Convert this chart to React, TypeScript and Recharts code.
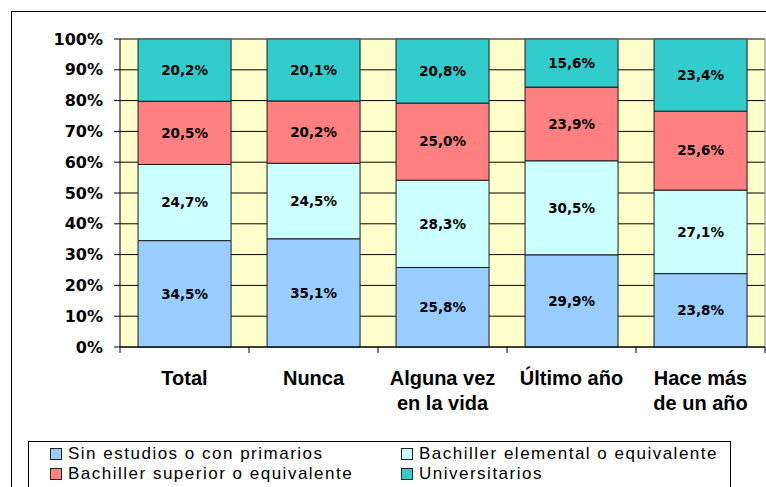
import { BarChart, Bar, XAxis, YAxis, CartesianGrid, LabelList, ReferenceLine } from 'recharts';

const categories = ['Total', 'Nunca', 'Alguna vez\nen la vida', 'Último año', 'Hace más\nde un año'];
const sinEstudios = [34.5, 35.1, 25.8, 29.9, 23.8];
const bachElemental = [24.7, 24.5, 28.3, 30.5, 27.1];
const bachSuperior = [20.5, 20.2, 25.0, 23.9, 25.6];
const universitarios = [20.2, 20.1, 20.8, 15.6, 23.4];
const yTicks = [0, 0.1, 0.2, 0.3, 0.4, 0.5, 0.6, 0.7, 0.8, 0.9, 1];

const series = [
  { key: 'sin', name: 'Sin estudios o con primarios', color: '#99CCFF', values: sinEstudios },
  { key: 'elem', name: 'Bachiller elemental o equivalente', color: '#CCFFFF', values: bachElemental },
  { key: 'sup', name: 'Bachiller superior o equivalente', color: '#FF8080', values: bachSuperior },
  { key: 'univ', name: 'Universitarios', color: '#33CCCC', values: universitarios },
];

const data = categories.map((c, i) => {
  const row: Record<string, string | number> = { cat: c };
  series.forEach((s) => (row[s.key] = s.values[i]));
  return row;
});

const pct = (v: number) => v.toFixed(1).replace('.', ',') + '%';

function CatTick(props: any) {
  const { x, y, payload, index } = props;
  const half = payload.offset ?? 0;
  const lines = String(payload.value).split('\n');
  return (
    <g>
      <line x1={x - half} x2={x - half} y1={y - 8} y2={y - 2} stroke="#000" />
      {index === categories.length - 1 && (
        <line x1={x + half} x2={x + half} y1={y - 8} y2={y - 2} stroke="#000" />
      )}
      <text
        x={x}
        y={y + 30}
        textAnchor="middle"
        fontFamily="'Liberation Sans', Arial, sans-serif"
        fontWeight="bold"
        fontSize={20}
        fill="#000"
      >
        {lines.map((l, i) => (
          <tspan key={i} x={x} dy={i === 0 ? 0 : 25}>
            {l}
          </tspan>
        ))}
      </text>
    </g>
  );
}

export default function App() {
  return (
    <div
      style={{
        position: 'absolute',
        left: 0,
        top: 0,
        width: 766,
        height: 487,
        overflow: 'hidden',
        background: '#fff',
      }}
    >
      <div
        style={{
          position: 'absolute',
          left: 11,
          top: 11,
          width: 800,
          height: 600,
          border: '1px solid #000',
        }}
      />
      <div style={{ position: 'absolute', left: 0, top: 0 }}>
        <BarChart
          width={780}
          height={440}
          data={data}
          stackOffset="expand"
          barCategoryGap="14%"
          margin={{ top: 39, right: 15, bottom: 3, left: 0 }}
        >
          <CartesianGrid vertical={false} stroke="#000" fill="#FFFFCC" fillOpacity={1} />
          <XAxis
            dataKey="cat"
            height={90}
            axisLine={{ stroke: '#000' }}
            tickLine={false}
            tick={<CatTick />}
            interval={0}
          />
          <YAxis
            width={120}
            domain={[0, 1]}
            ticks={yTicks}
            tickFormatter={(v: number) => Math.round(v * 100) + '%'}
            axisLine={{ stroke: '#000' }}
            tickLine={{ stroke: '#000' }}
            tickSize={6}
            tickMargin={11}
            tick={{ fill: '#000', fontFamily: "'DejaVu Sans', Verdana, sans-serif", fontWeight: 'bold', fontSize: 16 }}
          />
          <ReferenceLine y={1} stroke="#808080" />
          <ReferenceLine x={categories[categories.length - 1]} position="end" stroke="#808080" />
          {series.map((s) => (
            <Bar
              key={s.key}
              dataKey={s.key}
              name={s.name}
              stackId="a"
              fill={s.color}
              stroke="#1a1a1a"
              strokeWidth={1}
              isAnimationActive={false}
            >
              <LabelList
                dataKey={s.key}
                position="center"
                formatter={(v: any) => pct(Number(v))}
                fill="#000"
                fontFamily="'DejaVu Sans', Verdana, sans-serif"
                fontWeight="bold"
                fontSize={13.5}
              />
            </Bar>
          ))}
        </BarChart>
      </div>
      <div
        style={{
          position: 'absolute',
          left: 28,
          top: 441,
          width: 703,
          height: 100,
          border: '1px solid #000',
          boxSizing: 'border-box',
          fontFamily: "'Liberation Sans', Arial, sans-serif",
          fontSize: 17,
          letterSpacing: 1.5,
          color: '#000',
        }}
      >
        {series.map((s, i) => (
          <div
            key={s.key}
            style={{
              position: 'absolute',
              left: i % 2 === 0 ? 21 : 372,
              top: 2 + Math.floor(i / 2) * 20,
              height: 20,
              display: 'flex',
              alignItems: 'center',
              whiteSpace: 'nowrap',
            }}
          >
            <span
              style={{
                display: 'inline-block',
                width: 10,
                height: 10,
                background: s.color,
                border: '1px solid #222',
                marginRight: 6,
              }}
            />
            {s.name}
          </div>
        ))}
      </div>
    </div>
  );
}
